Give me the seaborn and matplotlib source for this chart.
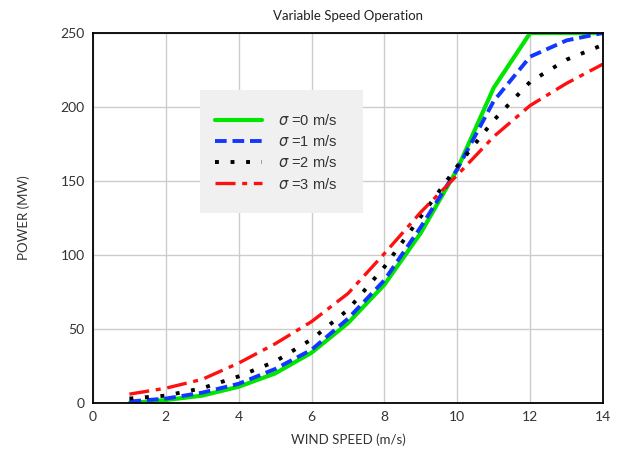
import matplotlib
matplotlib.use("Agg")
import matplotlib.pyplot as plt
from matplotlib.patches import Rectangle
import seaborn as sns
import pandas as pd

wind_speed = [1, 2, 3, 4, 5, 6, 7, 8, 9, 10, 11, 12, 13, 14]
power_s0 = [0, 2, 5, 11, 20, 34, 54, 80, 115, 158, 213, 250, 250, 250]
power_s1 = [1, 3, 7, 13, 23, 36, 57, 83, 119, 158, 204, 234, 245, 250]
power_s2 = [3, 5, 10, 18, 28, 43, 63, 92, 126, 160, 191, 217, 232, 242]
power_s3 = [6, 10, 16, 27, 40, 55, 74, 101, 129, 154, 180, 201, 216, 229]
labels = [r"$\sigma$ =0 m/s", r"$\sigma$ =1 m/s", r"$\sigma$ =2 m/s", r"$\sigma$ =3 m/s"]

sns.set_style("white")
plt.rcParams["font.family"] = ["Lato", "DejaVu Sans"]
plt.rcParams["mathtext.fontset"] = "dejavusans"

fig = plt.figure(figsize=(6.24, 4.54), dpi=100)
ax = fig.add_axes([93 / 624, 1 - 403 / 454, 510 / 624, 370 / 454])

styles = [
    dict(color="#00e600", linestyle="-", linewidth=3.0),
    dict(color="#1238ff", linestyle=(0, (3, 1.5)), linewidth=2.8),
    dict(color="black", linestyle=(0, (1, 3)), linewidth=2.8),
    dict(color="#ff1010", linestyle=(0, (6, 2, 1.5, 2)), linewidth=2.4),
]
for series, lab, st in zip([power_s0, power_s1, power_s2, power_s3], labels, styles):
    df = pd.DataFrame({"speed": wind_speed, "power": series})
    sns.lineplot(data=df, x="speed", y="power", ax=ax, label=lab, **st)

ax.set_xlim(0, 14)
ax.set_ylim(0, 250)
ax.set_xticks(range(0, 15, 2))
ax.set_yticks(range(0, 251, 50))
ax.grid(True, color="#cccccc", linewidth=1.0)
ax.set_axisbelow(True)
for sp in ax.spines.values():
    sp.set_color("black")
    sp.set_linewidth(1.3)
ax.tick_params(axis="both", length=0, labelsize=10, labelcolor="#333333", pad=6)

ax.set_title("Variable Speed Operation", fontsize=9.5, color="#222222", pad=9)
ax.set_xlabel("WIND SPEED (m/s)", fontsize=9.5, color="#333333", labelpad=7)
ax.set_ylabel("POWER (MW)", fontsize=9.5, color="#333333", labelpad=22)

# legend panel drawn as a plain grey block behind a frameless legend
ax.add_patch(Rectangle((0.21, 0.514), 0.32, 0.332, transform=ax.transAxes,
                       facecolor="#f0f0f0", edgecolor="none", zorder=4))
leg = ax.legend(
    loc="upper left", bbox_to_anchor=(0.225, 0.803), frameon=False,
    borderpad=0, handlelength=3.2, handletextpad=1.1, labelspacing=0.42,
    prop={"family": ["Liberation Sans", "DejaVu Sans"], "size": 10.5},
)
leg.set_zorder(5)
for t in leg.get_texts():
    t.set_color("#333333")

fig.savefig("out.png", dpi=100)
